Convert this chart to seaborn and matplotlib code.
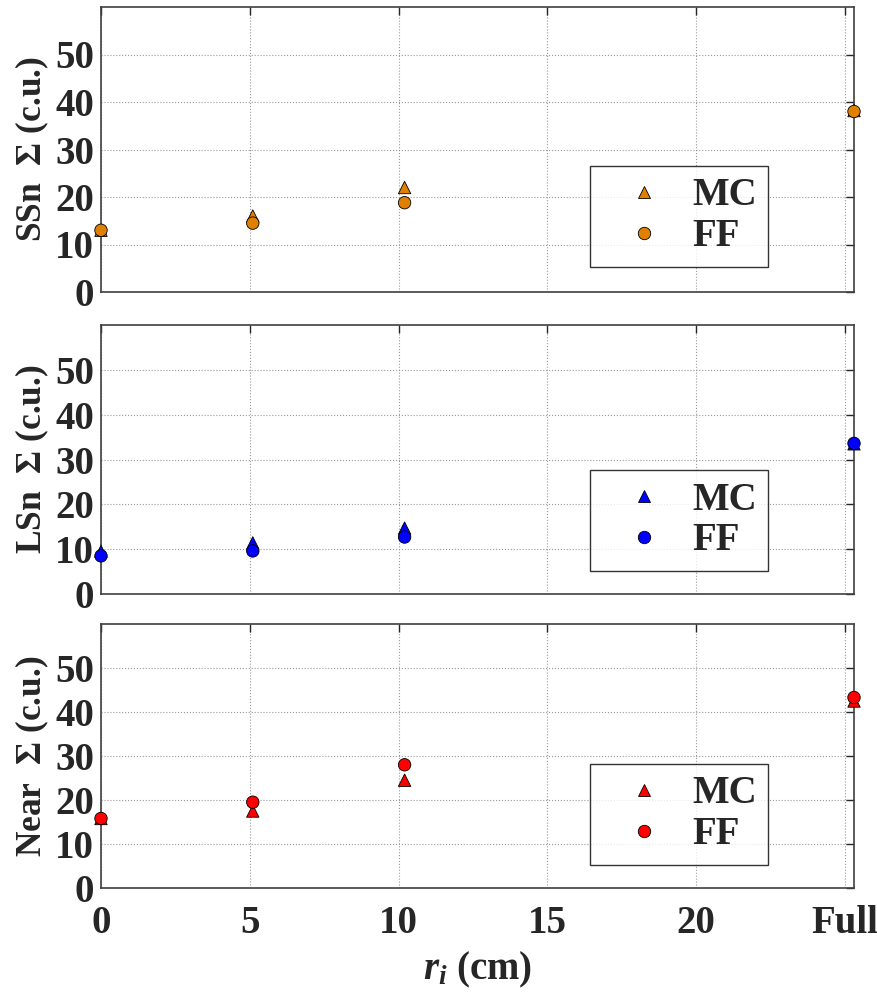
import numpy as np
import pandas as pd
import matplotlib
matplotlib.use('Agg')
import matplotlib.pyplot as plt
import seaborn as sns

# data
x_pos = [0, 5.1, 10.2, 25.3]
x_ticks = [0, 5, 10, 15, 20, 25]
x_ticklabels = ['0', '5', '10', '15', '20', 'Full']

ssn_mc = [13.0, 16.0, 22.0, 38.2]
ssn_ff = [13.0, 14.5, 18.8, 38.0]
lsn_mc = [9.5, 11.4, 14.7, 33.5]
lsn_ff = [8.5, 9.6, 12.7, 33.6]
near_mc = [15.8, 17.5, 24.5, 42.5]
near_ff = [15.8, 19.5, 28.0, 43.3]

panels = ['SSn', 'LSn', 'Near']
colors = {'SSn': '#DF8000', 'LSn': '#0000FF', 'Near': '#FF0000'}
series = {'SSn': (ssn_mc, ssn_ff), 'LSn': (lsn_mc, lsn_ff), 'Near': (near_mc, near_ff)}

sns.set_style('white')
plt.rcParams['font.family'] = ['Liberation Serif', 'DejaVu Serif']
plt.rcParams['font.weight'] = 'bold'
plt.rcParams['mathtext.fontset'] = 'custom'
plt.rcParams['mathtext.it'] = 'Liberation Serif:italic:bold'
plt.rcParams['mathtext.rm'] = 'Liberation Serif:bold'

fig = plt.figure(figsize=(8.78, 9.99), dpi=100)
W, H = 878, 999
rects = [(7, 292), (325, 594), (624, 888)]
left, right = 101, 854
legend_anchor = [(0.65, 0.088), (0.65, 0.085), (0.65, 0.087)]

for n, name in enumerate(panels):
    top, bot = rects[n]
    ax = fig.add_axes([left / W, (H - bot) / H, (right - left) / W, (bot - top) / H])
    mc, ff = series[name]
    df = pd.DataFrame({'x': x_pos * 2, 'y': mc + ff,
                       'method': ['MC'] * len(mc) + ['FF'] * len(ff)})
    sns.scatterplot(data=df, x='x', y='y', style='method',
                    markers={'MC': '^', 'FF': 'o'}, color=colors[name],
                    edgecolor='black', linewidth=0.6, s=80, clip_on=False,
                    zorder=5, ax=ax, legend=True)
    ax.set_xlim(0, 25.3)
    ax.set_ylim(0, 60)
    ax.set_xticks(x_ticks)
    ax.set_yticks([0, 10, 20, 30, 40, 50])
    ax.grid(True, linestyle=':', color='#999999', linewidth=0.8)
    ax.tick_params(direction='in', top=True, right=True, length=6, width=1,
                   labelsize=28, pad=5)
    ax.tick_params(axis='x', pad=12)
    for sp in ax.spines.values():
        sp.set_color('#404040')
        sp.set_linewidth(1.2)
    if n == 2:
        ax.set_xticklabels(x_ticklabels)
        ax.set_xlabel('$r_i$ (cm)', fontsize=28, fontweight='bold', labelpad=6)
    else:
        ax.set_xticklabels([])
        ax.set_xlabel('')
    ax.set_ylabel(name + r'  $\mathit{\Sigma}$ (c.u.)', fontsize=25.5,
                  fontweight='bold')
    ax.yaxis.set_label_coords(-0.066, 0.5)
    # order MC first, FF second
    handles, labels = ax.get_legend_handles_labels()
    order = [labels.index('MC'), labels.index('FF')]
    leg = ax.legend([handles[i] for i in order], [labels[i] for i in order],
                    loc='lower left', bbox_to_anchor=legend_anchor[n],
                    fontsize=28, frameon=True, fancybox=False, edgecolor='black',
                    borderpad=0.3, handletextpad=0.15, markerscale=1.0,
                    labelspacing=0.1, borderaxespad=0, handlelength=2.16)
    leg.get_frame().set_linewidth(1.0)

plt.savefig('out.png', dpi=100)
